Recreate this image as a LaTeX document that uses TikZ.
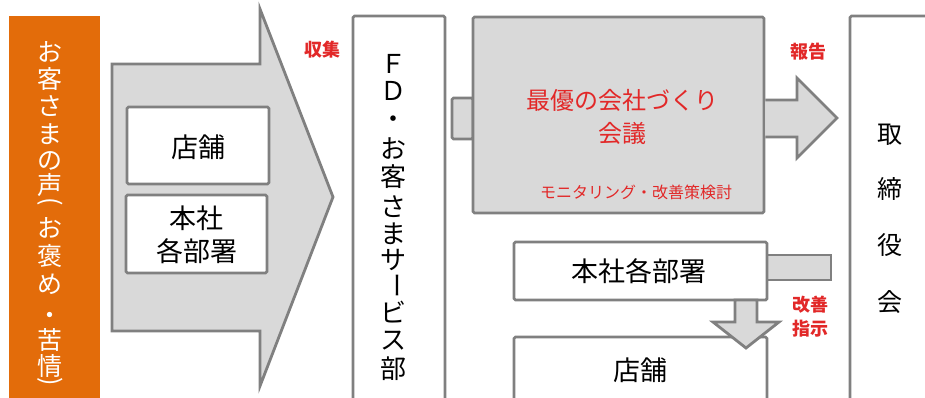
\documentclass[tikz,border=0pt]{standalone}
\usepackage{fontspec}
\setmainfont{Noto Sans CJK JP}
\definecolor{orng}{RGB}{227,108,10}
\definecolor{redt}{RGB}{226,40,40}
\definecolor{gline}{RGB}{128,128,128}
\definecolor{gfill}{RGB}{217,217,217}
\begin{document}
\begin{tikzpicture}[x=1pt,y=-1pt,
  box/.style={draw=gline, line width=2.8pt, fill=white, rounded corners=1.5pt, inner sep=0pt},
  gbox/.style={box, fill=gfill},
  blockarrow/.style={draw=gline, line width=2.8pt, fill=gfill, line join=miter},
  lbl/.style={text=redt, inner sep=0pt, font=\bfseries\fontsize{18pt}{24pt}\selectfont, align=center},
  vt/.style={inner sep=0pt, text height=20pt, text depth=0pt, font=\fontsize{26pt}{28pt}\selectfont},
  ot/.style={vt, text=white, text height=19pt, font=\fontsize{25pt}{28pt}\selectfont},
  bt/.style={inner sep=0pt, align=center, font=\fontsize{27pt}{33pt}\selectfont}
]
\useasboundingbox (0,0) rectangle (925,397);
\clip (0,0) rectangle (925,397);
\fill[white] (0,0) rectangle (925,397);

% orange column
\fill[orng] (9,16) rectangle (100,400);
\foreach \c/\yy [count=\i] in {お/52,客/79,さ/106,ま/134,の/160,声/185,お/228,褒/256,め/284,・/315,苦/340,情/366}
  \node[ot] (oc\i) at (50,\yy) {\c};
\node[inner sep=0pt, font=\fontsize{25pt}{28pt}\selectfont, text=white, rotate=-90] (ocl) at (50,202) {(};
\node[inner sep=0pt, font=\fontsize{25pt}{28pt}\selectfont, text=white, rotate=-90] (ocr) at (50,382) {)};

% big arrow
\draw[blockarrow] (112,64) -- (260,64) -- (260,9) -- (333,197) -- (260,386) -- (260,331) -- (112,331) -- cycle;
\node[box, minimum width=142pt, minimum height=77pt] (tenpoA) at (198,145.5) {};
\node[bt] (tenpoAt) at (198,147) {店舗};
\node[box, minimum width=141pt, minimum height=78pt] (honshaA) at (196.5,234) {};
\node[bt] (honshaAt) at (196.5,235) {本社\\各部署};
\node[lbl] (shushu) at (322,50) {収集};

% FD box
\node[box, minimum width=92pt, minimum height=390pt] (fd) at (399,211) {};
\foreach \c/\yy [count=\i] in {Ｆ/63,Ｄ/90,・/118,お/148,客/176,さ/206,ま/233,サ/259,ビ/312,ス/339,部/368}
  \node[vt] (fc\i) at (393,\yy) {\c};
\node[inner sep=0pt, font=\fontsize{26pt}{28pt}\selectfont, rotate=-90] (fcbar) at (393,285) {ー};

% meeting
\node[gbox, minimum width=21pt, minimum height=41pt] (link) at (462.5,118.5) {};
\node[gbox, minimum width=291pt, minimum height=196pt] (meet) at (618.5,115) {};
\node[text=redt, inner sep=0pt, align=center, font=\fontsize{24pt}{33pt}\selectfont] (mtitle) at (622,117) {最優の会社づくり\\会議};
\node[text=redt, inner sep=0pt, font=\fontsize{16pt}{18pt}\selectfont] (msub) at (636,192) {モニタリング・改善策検討};

% report arrow
\draw[blockarrow] (meet.east |- 0,100) -- (797,100) -- (797,78) -- (837,118) -- (797,158) -- (797,137) -- (meet.east |- 0,137);
\node[lbl] (hokoku) at (808,52) {報告};

% board
\node[box, minimum width=100pt, minimum height=390pt] (board) at (900,211) {};
\foreach \c/\yy [count=\i] in {取/133,締/188,役/244,会/301}
  \node[vt, font=\fontsize{25pt}{28pt}\selectfont] (bc\i) at (890,\yy) {\c};

% lower boxes
\node[gbox, rounded corners=0pt, minimum width=64pt, minimum height=25pt] (tab) at (799,267.5) {};
\node[box, minimum width=253pt, minimum height=58pt] (honshaB) at (640.5,271) {};
\node[bt] (honshaBt) at (639,271) {本社各部署};
\node[box, minimum width=253pt, minimum height=66pt] (tenpoB) at (640.5,370) {};
\node[bt] (tenpoBt) at (640,370) {店舗};
\draw[blockarrow] (735,300) -- (757,300) -- (757,322) -- (779,322) -- (746,348) -- (713,322) -- (735,322) -- cycle;
\node[lbl] (kaizen) at (810,317) {改善\\指示};
\end{tikzpicture}
\end{document}
